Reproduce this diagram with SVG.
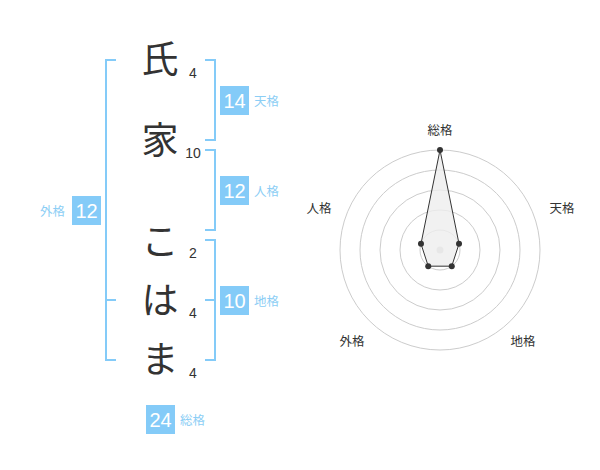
<svg xmlns="http://www.w3.org/2000/svg" width="600" height="470" viewBox="0 0 600 470">
<style>
.ch{font-family:"Noto Sans CJK JP","Noto Sans CJK SC",sans-serif;font-size:37px;fill:#333;text-anchor:middle}
.num{font-family:"Liberation Sans",Arial,sans-serif;font-size:14px;fill:#333;text-anchor:middle}
.br{fill:none;stroke:#84cbf8;stroke-width:2}
.box{fill:#84cbf8}
.bt{font-family:"Liberation Sans",Arial,sans-serif;font-size:20px;fill:#fff;text-anchor:middle}
.lb{font-family:"Noto Sans CJK JP","Noto Sans CJK SC",sans-serif;font-size:12.5px;fill:#8ccef5}
.rl{font-family:"Noto Sans CJK JP","Noto Sans CJK SC",sans-serif;font-size:12.5px;fill:#333;text-anchor:middle}
.ring{fill:none;stroke:#ccc;stroke-width:1}
.dot{fill:#333}
</style>
<rect width="600" height="470" fill="#fff"/>
<g id="chars">
<text class="ch" x="160" y="73">氏</text>
<text class="ch" x="160" y="154">家</text>
<text class="ch" x="160" y="255">こ</text>
<text class="ch" x="160" y="314">は</text>
<text class="ch" x="160" y="373">ま</text>
</g>
<g id="strokes">
<text class="num" x="193" y="78">4</text>
<text class="num" x="193" y="158">10</text>
<text class="num" x="193" y="258">2</text>
<text class="num" x="193" y="318">4</text>
<text class="num" x="193" y="378">4</text>
</g>
<g id="connectors">
<path class="br" d="M205,60 H215 V140 H205"/>
<path class="br" d="M205,150 H215 V230 H205"/>
<path class="br" d="M205,240 H215 V360 H205 M205,300 H215"/>
<path class="br" d="M116,60 H106 V360 H116 M106,300 H116"/>
</g>
<g id="tenkaku">
<rect class="box" x="220" y="86" width="29" height="29"/>
<text class="bt" x="234.5" y="108">14</text>
<text class="lb" x="254" y="106">天格</text>
</g>
<g id="jinkaku">
<rect class="box" x="220" y="176" width="29" height="29"/>
<text class="bt" x="234.5" y="198">12</text>
<text class="lb" x="254" y="196">人格</text>
</g>
<g id="chikaku">
<rect class="box" x="220" y="286" width="29" height="29"/>
<text class="bt" x="234.5" y="308">10</text>
<text class="lb" x="254" y="306">地格</text>
</g>
<g id="gaikaku">
<rect class="box" x="72" y="196" width="29" height="29"/>
<text class="bt" x="86.5" y="218">12</text>
<text class="lb" x="40" y="216">外格</text>
</g>
<g id="soukaku">
<rect class="box" x="146" y="405" width="29" height="29"/>
<text class="bt" x="160.5" y="427">24</text>
<text class="lb" x="180" y="425">総格</text>
</g>
<g id="radar">
<circle class="ring" cx="440" cy="250" r="20"/>
<circle class="ring" cx="440" cy="250" r="40"/>
<circle class="ring" cx="440" cy="250" r="60"/>
<circle class="ring" cx="440" cy="250" r="80"/>
<circle class="ring" cx="440" cy="250" r="100"/>
<circle cx="440" cy="250" r="3.5" fill="#ccc"/>
<polygon points="440,150 459.02,243.82 451.76,266.18 428.24,266.18 420.98,243.82" fill="#eee" fill-opacity="0.8" stroke="#333" stroke-width="1"/>
<circle class="dot" cx="440" cy="150" r="3"/>
<circle class="dot" cx="459.02" cy="243.82" r="3"/>
<circle class="dot" cx="451.76" cy="266.18" r="3"/>
<circle class="dot" cx="428.24" cy="266.18" r="3"/>
<circle class="dot" cx="420.98" cy="243.82" r="3"/>
<text class="rl" x="440" y="135">総格</text>
<text class="rl" x="562" y="213">天格</text>
<text class="rl" x="319" y="213">人格</text>
<text class="rl" x="352" y="346">外格</text>
<text class="rl" x="523" y="346">地格</text>
</g>
</svg>
